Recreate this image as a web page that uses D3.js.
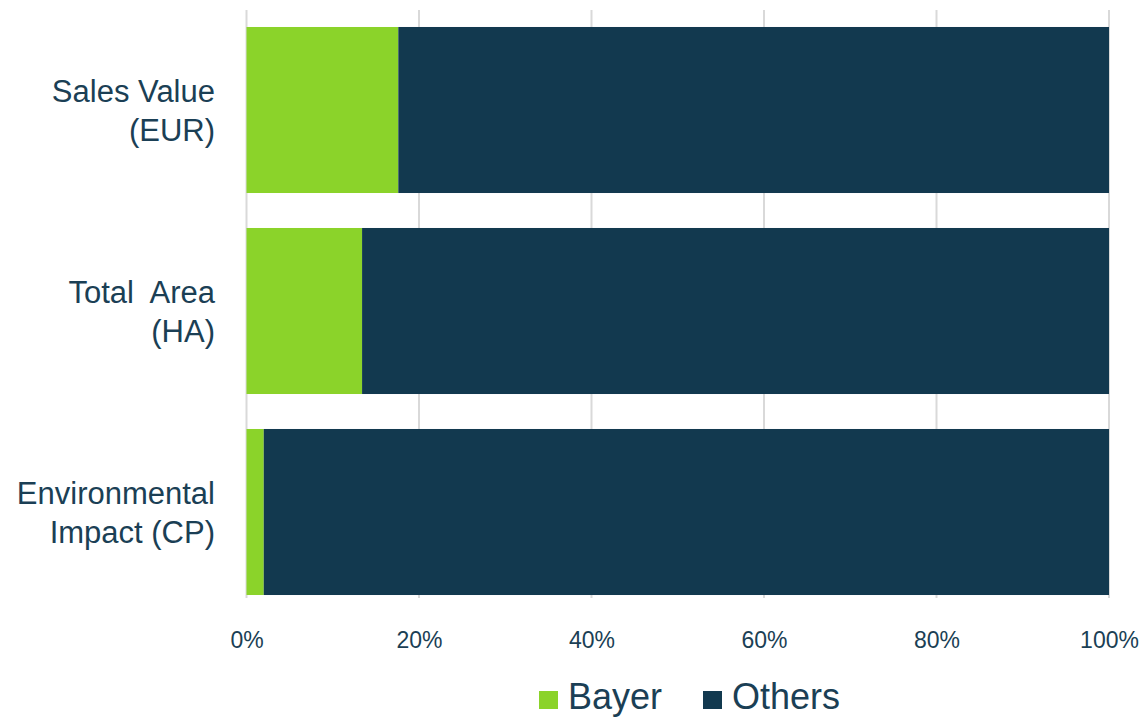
<!DOCTYPE html>
<html><head><meta charset="utf-8">
<script src="https://cdn.jsdelivr.net/npm/d3@7"></script>
<style>body{margin:0;background:#fff;}text{font-family:"Liberation Sans",Arial,sans-serif;}</style>
</head><body>
<svg id="c" width="1140" height="717"></svg>
<script>
const categories = [["Sales Value","(EUR)"],["Total  Area","(HA)"],["Environmental","Impact (CP)"]];
const bayer = [17.6, 13.4, 2.0];
const others = [82.4, 86.6, 98.0];
const seriesNames = ["Bayer","Others"];
const colors = ["#8BD32A","#12394F"];
const ticks = [0,20,40,60,80,100];

const svg = d3.select("#c");
const textColor = "#1B3F55";
const x = d3.scaleLinear().domain([0,100]).range([246.5,1109]);
const y = d3.scaleBand().domain(d3.range(categories.length)).range([9.5,612.5]).paddingInner(0.174).paddingOuter(0.087);

// gridlines
svg.append("g").selectAll("line").data(ticks).join("line")
  .attr("x1",d=>x(d)).attr("x2",d=>x(d)).attr("y1",10).attr("y2",598)
  .attr("stroke","#D9D9D9").attr("stroke-width",2);

const stacked = categories.map((c,i)=>[{s:0,x0:0,x1:bayer[i]},{s:1,x0:bayer[i],x1:bayer[i]+others[i]}]);
const g = svg.append("g");
stacked.forEach((segs,i)=>{
  g.selectAll(null).data(segs).join("rect")
    .attr("x",d=>x(d.x0)).attr("width",d=>x(d.x1)-x(d.x0))
    .attr("y",y(i)).attr("height",y.bandwidth())
    .attr("fill",d=>colors[d.s]);
});

// x axis labels
const xa = svg.append("g").attr("transform","translate(0,598)")
  .call(d3.axisBottom(x).tickValues(ticks).tickFormat(d=>d+"%").tickSize(0).tickPadding(0));
xa.select(".domain").remove();
xa.selectAll("text").attr("font-size",23).attr("fill",textColor).attr("dy",null).attr("y",50)
  .style("font-family","'Liberation Sans',Arial,sans-serif");

// category labels
categories.forEach((lines,i)=>{
  const cy = y(i)+y.bandwidth()/2;
  const t = svg.append("text").attr("text-anchor","end").attr("font-size",31).attr("fill",textColor);
  lines.forEach((l,j)=>{
    t.append("tspan").attr("x",215).attr("y",cy+11+(j===0?-19.5:19.5)).text(l).style("white-space","pre");
  });
});

// legend
const leg = svg.append("g");
const legX = [539,703];
seriesNames.forEach((n,i)=>{
  leg.append("rect").attr("x",legX[i]).attr("y",691).attr("width",19).attr("height",18).attr("fill",colors[i]);
  leg.append("text").attr("x",legX[i]+29).attr("y",709).attr("font-size",36).attr("fill",textColor).text(n);
});
</script>
</body></html>
